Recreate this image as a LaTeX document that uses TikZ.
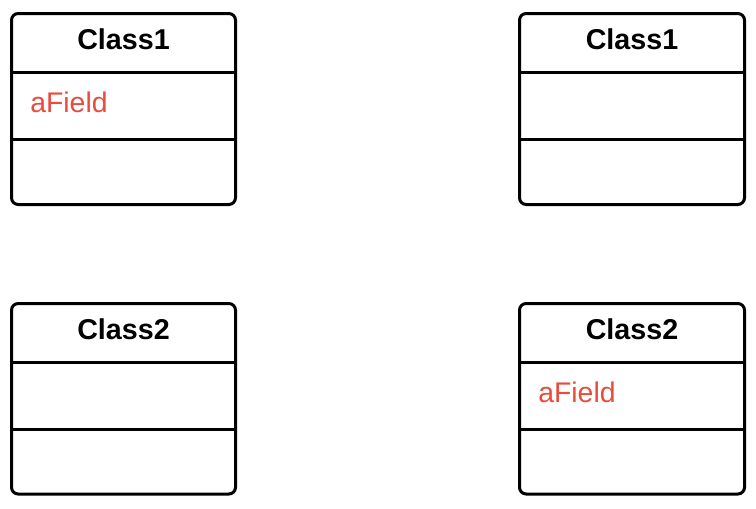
\documentclass[tikz,border=0pt]{standalone}
\usepackage{fontspec}
\setmainfont{Liberation Sans}
\definecolor{field_red}{RGB}{231, 76, 60}
\tikzstyle{box}=[draw=black,line width=2.25pt,rounded corners=5pt]
\tikzstyle{sep}=[draw=black,line width=2.25pt]
\tikzstyle{title}=[font=\fontsize{21.5}{24}\selectfont\bfseries,inner sep=0pt]
\tikzstyle{field}=[font=\fontsize{21.3}{24}\selectfont,text=field_red,inner sep=0pt,anchor=west]

\begin{document}
\begin{tikzpicture}[x=0.75pt,y=-0.75pt]
        \useasboundingbox (0,0) rectangle (756,508);
        % top left
        \draw[style=box] (11.5,13.5) rectangle (235.5,204.5);
        \draw[style=sep] (11.5,72.5) -- (235.5,72.5);
        \draw[style=sep] (11.5,139) -- (235.5,139);
        \node[style=title] (t1) at (123.5,39) {Class1};
        \node[style=field] (f1) at (30,102) {aField};
        % top right
        \draw[style=box] (519.5,13.5) rectangle (744.5,204.5);
        \draw[style=sep] (519.5,72.5) -- (744.5,72.5);
        \draw[style=sep] (519.5,139) -- (744.5,139);
        \node[style=title] (t2) at (632,39) {Class1};
        % bottom left
        \draw[style=box] (11.5,303.5) rectangle (235.5,494);
        \draw[style=sep] (11.5,362.5) -- (235.5,362.5);
        \draw[style=sep] (11.5,429) -- (235.5,429);
        \node[style=title] (t3) at (123.5,329) {Class2};
        % bottom right
        \draw[style=box] (519.5,303.5) rectangle (744.5,494);
        \draw[style=sep] (519.5,362.5) -- (744.5,362.5);
        \draw[style=sep] (519.5,429) -- (744.5,429);
        \node[style=title] (t4) at (632,329) {Class2};
        \node[style=field] (f2) at (538,392) {aField};
    \end{tikzpicture}
\end{document}
